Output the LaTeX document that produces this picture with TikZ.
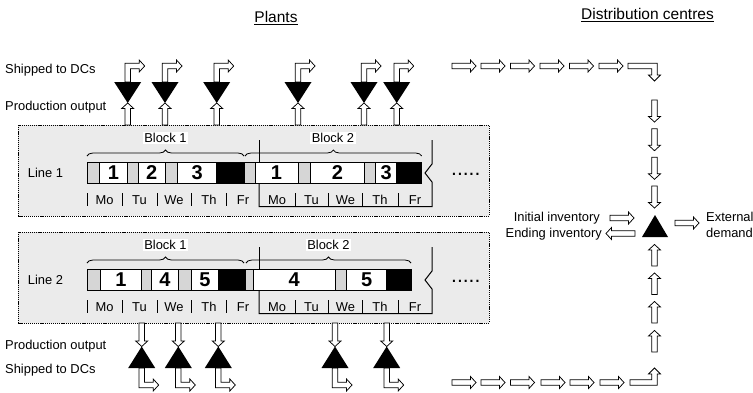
\documentclass[tikz,border=0pt]{standalone}
\usepackage{fontspec}
\setmainfont{Liberation Sans}
\usetikzlibrary{decorations.pathreplacing}
\definecolor{boxgray}{HTML}{EBEBEB}
\definecolor{cellgray}{HTML}{D6D6D6}
\newcommand\hollowarrow[4]{\draw[harrow,shift={(#1,#2)},rotate=#3] (0,-2.8) -- ({#4-5.5},-2.8) -- ({#4-5.5},-6) -- (#4,0) -- ({#4-5.5},6) -- ({#4-5.5},2.8) -- (0,2.8) -- cycle;}
\newcommand\panelframe[2]{%
  \draw[dotbox] (18,125) rectangle (489,216);
  \node (line#2) at (45.5,173) {#1};
  \foreach \x in {87,122,157,191.7,226.7,295,328.5,362.5,398} \draw[thinl] (\x,193) -- (\x,205.5);
  \draw[outl] (259,140) -- (259,162);
  \draw[outl] (432,140) -- (432,164) -- (425,173) -- (432,182) -- (432,206.5) -- (259,206.5) -- (259,183.5);
  \foreach \d/\x [count=\i] in {Mo/104.5,Tu/139.5,We/174,Th/209,Fr/243,Mo/277,Tu/311.5,We/345.5,Th/380,Fr/415}
    \node (day#2\i) at (\x,200) {\d};
  \node[font=\fontsize{21}{22}\selectfont, anchor=base west] (dots#2) at (451,175.5) {.....};
}
\begin{document}
\begin{tikzpicture}[x=1pt,y=-1pt,
  every node/.style={font=\fontsize{12.9}{14}\selectfont, inner sep=0pt},
  harrow/.style={draw=black, fill=white, line width=0.75pt},
  outl/.style={draw=black, line width=1pt},
  thinl/.style={draw=black, line width=0.7pt},
  dotbox/.style={draw=black, fill=boxgray, line width=0.6pt, dash pattern=on 1.2pt off 0.9pt},
  numlab/.style={font=\fontsize{20}{21}\selectfont\bfseries},
  blocklab/.style={fill=white, inner sep=1.5pt},
  bracestyle/.style={draw=black, line width=0.8pt, decorate, decoration={brace, amplitude=6pt}},
  tri/.style={fill=black}]
\useasboundingbox (0,0) rectangle (753,392);

% titles
\node (tplants) at (276,18) {\fontsize{15.5}{17}\selectfont\underline{Plants}};
\node (tdc) at (647.5,15) {\fontsize{15.5}{17}\selectfont\underline{Distribution centres}};

% left labels
\node[anchor=west] (ship1) at (5,70) {Shipped to DCs};
\node[anchor=west] (prod1) at (5,107) {Production output};
\node[anchor=west] (prod2) at (5,346) {Production output};
\node[anchor=west] (ship2) at (5,370) {Shipped to DCs};

% line 1 panel
\panelframe{Line 1}{a}
\foreach \a/\b/\f/\t [count=\i] in {87/99/cellgray/{},99/127.7/white/1,127.7/138.3/cellgray/{},138.3/165/white/2,165/177.7/cellgray/{},177.7/216.7/white/3,216.7/244/black/{},244/255/cellgray/{},255/298/white/1,298/310.7/cellgray/{},310.7/364/white/2,364/375.7/cellgray/{},375.7/396.7/white/3,396.7/421.7/black/{}}
{
  \draw[outl, fill=\f] (\a,162) rectangle (\b,183.5);
  \node[numlab] (ca\i) at ({(\a+\b)/2},173) {\t};
}
\draw[bracestyle] (87,156) -- (244,156);
\draw[bracestyle] (245,156) -- (421.7,156);
\node[blocklab] (b1a) at (165.5,138) {Block 1};
\node[blocklab] (b2a) at (333,138) {Block 2};

% line 2 panel
\begin{scope}[shift={(0,107)}]
\panelframe{Line 2}{b}
\foreach \a/\b/\f/\t [count=\i] in {87/100/cellgray/{},100/141.7/white/1,141.7/151.7/cellgray/{},151.7/178.3/white/4,178.3/191.7/cellgray/{},191.7/218.3/white/5,218.3/245/black/{},245/253.3/cellgray/{},253.3/335/white/4,335/346.7/cellgray/{},346.7/386.7/white/5,386.7/411.7/black/{}}
{
  \draw[outl, fill=\f] (\a,162) rectangle (\b,183.5);
  \node[numlab] (cb\i) at ({(\a+\b)/2},173) {\t};
}
\draw[bracestyle] (87,156) -- (244,156);
\draw[bracestyle] (246,156) -- (411,156);
\node[blocklab] (b1b) at (165.5,138) {Block 1};
\node[blocklab] (b2b) at (328.5,138) {Block 2};
\end{scope}

% top plant stocks
\foreach \c in {127.7,165,216.7,298,364,396.7} {
  \hollowarrow{\c}{125}{90}{22}
  \draw[harrow] ({\c-2.8},82) -- ({\c-2.8},63.2) -- ({\c+11.5},63.2) -- ({\c+11.5},60) -- ({\c+17},66) -- ({\c+11.5},72) -- ({\c+11.5},68.8) -- ({\c+2.8},68.8) -- ({\c+2.8},82) -- cycle;
  \fill[tri] ({\c-13.5},82) -- ({\c+13.5},82) -- (\c,103) -- cycle;
}
% bottom plant stocks
\foreach \c in {141.7,178.3,218.3,335,386.7} {
  \hollowarrow{\c}{323}{-90}{23.5}
  \draw[harrow] ({\c-2.8},368) -- ({\c-2.8},387.8) -- ({\c+11.5},387.8) -- ({\c+11.5},391) -- ({\c+17},385) -- ({\c+11.5},379) -- ({\c+11.5},382.2) -- ({\c+2.8},382.2) -- ({\c+2.8},368) -- cycle;
  \fill[tri] ({\c-13.5},368) -- ({\c+13.5},368) -- (\c,346.5) -- cycle;
}

% distribution centre flows
\foreach \x in {452,481,510.5,540,569.5,599} { \hollowarrow{\x}{66}{0}{24} }
\draw[harrow] (628,63.2) -- (657.3,63.2) -- (657.3,75) -- (660.5,75) -- (654.5,81) -- (648.5,75) -- (651.7,75) -- (651.7,68.8) -- (628,68.8) -- cycle;
\foreach \y in {100,128.7,157.3,186} { \hollowarrow{654.5}{\y}{-90}{22} }
\fill[tri] (655,215) -- (668,237) -- (642,237) -- cycle;
\foreach \y in {266,294.5,323,352} { \hollowarrow{654.5}{\y}{90}{21.5} }
\foreach \x in {452,481,510.5,541,570,600} { \hollowarrow{\x}{382.5}{0}{24} }
\draw[harrow] (630,385.3) -- (657.3,385.3) -- (657.3,374) -- (660.5,374) -- (654.5,368) -- (648.5,374) -- (651.7,374) -- (651.7,379.7) -- (630,379.7) -- cycle;

\hollowarrow{610}{218}{0}{24}
\hollowarrow{635}{233.5}{180}{29}
\hollowarrow{675}{223}{0}{24}
\node[anchor=east] (initinv) at (600,218) {Initial inventory};
\node[anchor=east] (endinv) at (602,234) {Ending inventory};
\node[anchor=west] (ext) at (706,217) {External};
\node[anchor=west] (dem) at (706,233) {demand};
\end{tikzpicture}
\end{document}
